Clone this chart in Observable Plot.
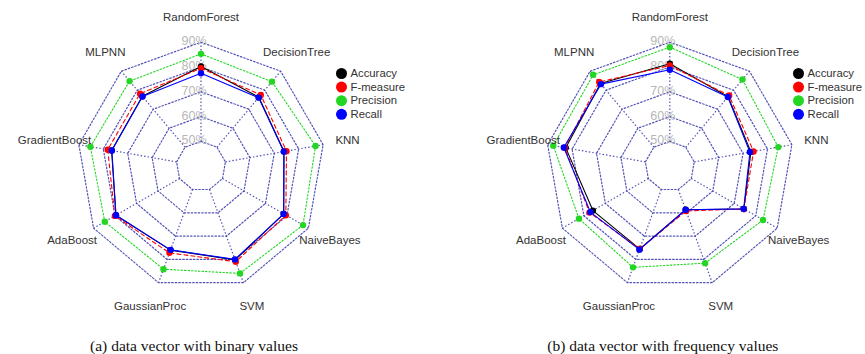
<!DOCTYPE html>
<html>
<head>
<meta charset="utf-8">
<script src="https://cdn.jsdelivr.net/npm/d3@7"></script>
<script src="https://cdn.jsdelivr.net/npm/@observablehq/plot@0.6"></script>
<style>
  html, body { margin: 0; padding: 0; background: #fff; }
</style>
</head>
<body>
<div id="chart"></div>
<script>
// ---- Data (percent) ----
const classifiers = ["RandomForest","DecisionTree","KNN","NaiveBayes","SVM","GaussianProc","AdaBoost","GradientBoost","MLPNN"];
const seriesNames = ["Accuracy","F-measure","Precision","Recall"];

// (a) binary values
const binaryAccuracy  = [80.2, 76.3, 74.0, 78.5, 80.2, 76.0, 79.6, 76.6, 76.8];
const binaryFmeasure  = [79.5, 77.5, 75.0, 79.5, 81.0, 77.2, 80.1, 78.2, 78.2];
const binaryPrecision = [85.3, 84.5, 86.9, 87.5, 86.0, 84.2, 84.8, 85.3, 84.8];
const binaryRecall    = [77.5, 76.1, 73.9, 78.5, 80.0, 75.9, 79.6, 76.5, 76.7];

// (b) frequency values
const freqAccuracy  = [81.3, 76.6, 73.2, 74.5, 58.7, 75.5, 75.8, 82.6, 83.5];
const freqFmeasure  = [80.6, 77.2, 74.3, 74.5, 59.2, 75.5, 77.4, 83.0, 84.3];
const freqPrecision = [88.0, 85.6, 84.4, 83.4, 81.6, 83.4, 82.3, 87.7, 88.1];
const freqRecall    = [78.9, 76.4, 72.8, 74.4, 58.7, 75.8, 77.0, 83.4, 83.2];

const ringValues = [50, 60, 70, 80, 90];
const ringLabels = ["50%", "60%", "70%", "80%", "90%"];
const captions = ["(a) data vector with binary values", "(b) data vector with frequency values"];

// ---- Styles ----
const seriesStyle = {
  "Accuracy":  {color: "#000000", dash: null},
  "F-measure": {color: "#ff0000", dash: "4,3"},
  "Precision": {color: "#22d622", dash: "1.5,2"},
  "Recall":    {color: "#0000ff", dash: null}
};
const gridColor = "#4040b0";

// ---- Layout ----
const W = 865, H = 354;
const panels = [
  {cx: 200.5, cy: 165.7, legendX: 341, caption: captions[0],
   values: {"Accuracy": binaryAccuracy, "F-measure": binaryFmeasure, "Precision": binaryPrecision, "Recall": binaryRecall}},
  {cx: 669.3, cy: 165.7, legendX: 798, caption: captions[1],
   values: {"Accuracy": freqAccuracy, "F-measure": freqFmeasure, "Precision": freqPrecision, "Recall": freqRecall}}
];
const radius = d3.scaleLinear([40, 90], [0, 124]);
const n = classifiers.length;
const angle = i => (i * 2 * Math.PI) / n;
function polar(p, i, v) {
  const r = radius(v), a = angle(i);
  return {x: p.cx + r * Math.sin(a), y: p.cy - r * Math.cos(a)};
}

const marks = [];
panels.forEach((p, pi) => {
  // rings
  const rings = [];
  ringValues.forEach(rv => classifiers.forEach((c, i) => rings.push({...polar(p, i, rv), ring: rv})));
  marks.push(Plot.line(rings, {x: "x", y: "y", z: "ring", curve: "linear-closed",
    stroke: gridColor, strokeWidth: 1.2, strokeOpacity: 0.9, strokeDasharray: "1.5,2"}));
  // spokes
  const spokes = classifiers.map((c, i) => {
    const a = polar(p, i, ringValues[0]), b = polar(p, i, ringValues[ringValues.length - 1]);
    return {x1: a.x, y1: a.y, x2: b.x, y2: b.y};
  });
  marks.push(Plot.link(spokes, {x1: "x1", y1: "y1", x2: "x2", y2: "y2",
    stroke: gridColor, strokeWidth: 1.2, strokeOpacity: 0.9, strokeDasharray: "1.5,2"}));
  // ring labels on top axis
  const rl = ringValues.map((rv, k) => ({...polar(p, 0, rv), label: ringLabels[k]}));
  marks.push(Plot.text(rl, {x: "x", y: "y", text: "label", dx: -7, dy: -1, fill: "#b8b8b8", fontSize: 12.5}));
  // series
  seriesNames.forEach(s => {
    const pts = p.values[s].map((v, i) => ({...polar(p, i, v), series: s}));
    const st = seriesStyle[s];
    const lineOpts = {x: "x", y: "y", curve: "linear-closed", stroke: st.color, strokeWidth: 1.1};
    if (st.dash) lineOpts.strokeDasharray = st.dash;
    marks.push(Plot.line(pts, lineOpts));
    marks.push(Plot.dot(pts, {x: "x", y: "y", r: 3.2, fill: st.color, stroke: "none"}));
  });
  // axis labels
  const al = classifiers.map((c, i) => {
    const r = radius(90) * 1.2, a = angle(i);
    return {x: p.cx + r * Math.sin(a), y: p.cy - r * Math.cos(a), label: c};
  });
  marks.push(Plot.text(al, {x: "x", y: "y", text: "label", fill: "#333", fontSize: 11.5}));
  // legend
  const lg = seriesNames.map((s, k) => ({x: p.legendX, y: 73 + k * 13.6, label: s, color: seriesStyle[s].color}));
  marks.push(Plot.dot(lg, {x: "x", y: "y", r: 5.5, fill: "color", stroke: "none"}));
  marks.push(Plot.text(lg, {x: "x", y: "y", text: "label", dx: 9, textAnchor: "start", fill: "#333", fontSize: 11.3}));
  // caption
  marks.push(Plot.text([{x: p.cx - 7, y: 346, label: p.caption}], {x: "x", y: "y", text: "label",
    fill: "#111", fontSize: 15.5, fontFamily: "Liberation Serif, Times New Roman, serif"}));
});

const chart = Plot.plot({
  width: W, height: H, margin: 0,
  x: {type: "linear", domain: [0, W], range: [0, W], axis: null},
  y: {type: "linear", domain: [0, H], range: [0, H], axis: null},
  color: {type: "identity"},
  style: {fontFamily: "Liberation Sans, Arial, sans-serif", background: "#fff", overflow: "hidden"},
  marks
});
document.getElementById("chart").append(chart);
</script>
</body>
</html>
